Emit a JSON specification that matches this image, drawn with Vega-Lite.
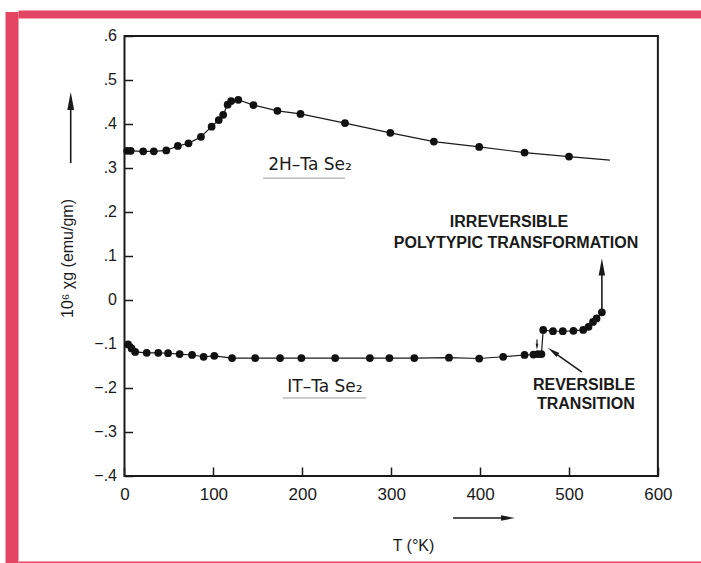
{
  "$schema": "https://vega.github.io/schema/vega-lite/v6.json",
  "width": 683,
  "height": 543,
  "autosize": {"type": "none"},
  "padding": {"left": 18, "top": 18, "right": 0, "bottom": 2},
  "background": "white",
  "config": {
    "view": {"stroke": null},
    "axis": {"labelFont": "Liberation Sans", "titleFont": "Liberation Sans", "grid": false}
  },
  "datasets": {
    "chi": [
      {"series": "2H", "T": 3, "chi": 0.339, "dot": true},
      {"series": "2H", "T": 7, "chi": 0.339, "dot": true},
      {"series": "2H", "T": 21, "chi": 0.338, "dot": true},
      {"series": "2H", "T": 33, "chi": 0.338, "dot": true},
      {"series": "2H", "T": 47, "chi": 0.340, "dot": true},
      {"series": "2H", "T": 60, "chi": 0.350, "dot": true},
      {"series": "2H", "T": 72, "chi": 0.356, "dot": true},
      {"series": "2H", "T": 86, "chi": 0.371, "dot": true},
      {"series": "2H", "T": 98, "chi": 0.394, "dot": true},
      {"series": "2H", "T": 106, "chi": 0.409, "dot": true},
      {"series": "2H", "T": 111, "chi": 0.421, "dot": true},
      {"series": "2H", "T": 116, "chi": 0.444, "dot": true},
      {"series": "2H", "T": 120, "chi": 0.452, "dot": true},
      {"series": "2H", "T": 128, "chi": 0.455, "dot": true},
      {"series": "2H", "T": 145, "chi": 0.443, "dot": true},
      {"series": "2H", "T": 172, "chi": 0.430, "dot": true},
      {"series": "2H", "T": 198, "chi": 0.423, "dot": true},
      {"series": "2H", "T": 248, "chi": 0.402, "dot": true},
      {"series": "2H", "T": 299, "chi": 0.380, "dot": true},
      {"series": "2H", "T": 348, "chi": 0.360, "dot": true},
      {"series": "2H", "T": 399, "chi": 0.348, "dot": true},
      {"series": "2H", "T": 450, "chi": 0.335, "dot": true},
      {"series": "2H", "T": 500, "chi": 0.326, "dot": true},
      {"series": "2H", "T": 546, "chi": 0.318, "dot": false},
      {"series": "1T", "T": 4, "chi": -0.101, "dot": true},
      {"series": "1T", "T": 8, "chi": -0.110, "dot": true},
      {"series": "1T", "T": 12, "chi": -0.118, "dot": true},
      {"series": "1T", "T": 25, "chi": -0.120, "dot": true},
      {"series": "1T", "T": 38, "chi": -0.120, "dot": true},
      {"series": "1T", "T": 49, "chi": -0.121, "dot": true},
      {"series": "1T", "T": 62, "chi": -0.123, "dot": true},
      {"series": "1T", "T": 76, "chi": -0.125, "dot": true},
      {"series": "1T", "T": 89, "chi": -0.129, "dot": true},
      {"series": "1T", "T": 101, "chi": -0.127, "dot": true},
      {"series": "1T", "T": 121, "chi": -0.132, "dot": true},
      {"series": "1T", "T": 147, "chi": -0.132, "dot": true},
      {"series": "1T", "T": 175, "chi": -0.132, "dot": true},
      {"series": "1T", "T": 199, "chi": -0.132, "dot": true},
      {"series": "1T", "T": 237, "chi": -0.132, "dot": true},
      {"series": "1T", "T": 276, "chi": -0.132, "dot": true},
      {"series": "1T", "T": 298, "chi": -0.132, "dot": true},
      {"series": "1T", "T": 326, "chi": -0.132, "dot": true},
      {"series": "1T", "T": 365, "chi": -0.131, "dot": true},
      {"series": "1T", "T": 399, "chi": -0.133, "dot": true},
      {"series": "1T", "T": 426, "chi": -0.129, "dot": true},
      {"series": "1T", "T": 450, "chi": -0.125, "dot": true},
      {"series": "1T", "T": 460, "chi": -0.124, "dot": true},
      {"series": "1T", "T": 465, "chi": -0.123, "dot": true},
      {"series": "1T", "T": 469, "chi": -0.123, "dot": true},
      {"series": "1T", "T": 471, "chi": -0.068, "dot": true},
      {"series": "1T", "T": 482, "chi": -0.071, "dot": true},
      {"series": "1T", "T": 493, "chi": -0.071, "dot": true},
      {"series": "1T", "T": 505, "chi": -0.070, "dot": true},
      {"series": "1T", "T": 516, "chi": -0.068, "dot": true},
      {"series": "1T", "T": 522, "chi": -0.061, "dot": true},
      {"series": "1T", "T": 527, "chi": -0.050, "dot": true},
      {"series": "1T", "T": 531, "chi": -0.042, "dot": true},
      {"series": "1T", "T": 537, "chi": -0.028, "dot": true}
    ],
    "one": [{}]
  },
  "layer": [
    {
      "data": {"name": "chi"},
      "mark": {"type": "line", "color": "#1a1a1a", "strokeWidth": 1.2},
      "encoding": {
        "x": {
          "field": "T", "type": "quantitative",
          "scale": {"domain": [-119.8, 648.5], "nice": false, "zero": false},
          "axis": {
            "orient": "bottom", "offset": -85, "domain": false,
            "values": [0, 100, 200, 300, 400, 500, 600],
            "tickSize": -9, "tickWidth": 1.5, "tickColor": "#1a1a1a",
            "labelPadding": 19, "labelFontSize": 17, "labelColor": "#1a1a1a",
            "title": "T   (°K)", "titleFontSize": 16, "titleFontWeight": "normal", "titleColor": "#1a1a1a",
            "titleX": 395, "titleY": 69, "titleAlign": "center", "titleBaseline": "middle"
          }
        },
        "y": {
          "field": "chi", "type": "quantitative",
          "scale": {"domain": [-0.5932, 0.6409], "nice": false, "zero": false},
          "axis": {
            "orient": "left", "offset": -106.5, "domain": false,
            "values": [-0.4, -0.3, -0.2, -0.1, 0, 0.1, 0.2, 0.3, 0.4, 0.5, 0.6],
            "labelExpr": "datum.value == 0 ? '0' : replace(format(datum.value, '.1f'), '0.', '.')",
            "tickSize": -8, "tickWidth": 1.5, "tickColor": "#1a1a1a",
            "labelPadding": 16, "labelFontSize": 16, "labelColor": "#1a1a1a",
            "title": "10⁶ χg (emu/gm)", "titleFontSize": 16, "titleFontWeight": "normal", "titleColor": "#1a1a1a",
            "titleX": -57, "titleY": 240, "titleAlign": "center", "titleBaseline": "middle", "titleAngle": 270
          }
        },
        "detail": {"field": "series"}
      }
    },
    {
      "data": {"name": "one"},
      "mark": {"type": "rect", "fill": null, "stroke": "#1a1a1a", "strokeWidth": 2},
      "encoding": {
        "x": {
          "datum": 0, "type": "quantitative",
          "axis": {"orient": "top", "offset": 4, "domain": true, "domainColor": "#E34562", "domainWidth": 8, "ticks": false, "labels": false, "title": null}
        },
        "x2": {"datum": 600},
        "y": {
          "datum": -0.4, "type": "quantitative",
          "axis": {"orient": "left", "offset": 6.5, "domain": true, "domainColor": "#E34562", "domainWidth": 13, "domainCap": "square", "ticks": false, "labels": false, "title": null}
        },
        "y2": {"datum": 0.6}
      }
    },
    {
      "data": {"name": "one"},
      "mark": {"type": "rule", "color": "#1a1a1a", "strokeWidth": 1.6},
      "encoding": {
        "x": {
          "datum": -60.5, "type": "quantitative",
          "axis": {"orient": "bottom", "offset": 1, "domain": true, "domainColor": "#E34562", "domainWidth": 2, "ticks": false, "labels": false, "title": null}
        },
        "y": {"datum": 0.311, "type": "quantitative", "axis": null},
        "y2": {"datum": 0.443}
      }
    },
    {
      "data": {"name": "chi"},
      "transform": [{"filter": "datum.dot"}],
      "mark": {"type": "point", "filled": true, "shape": "circle", "size": 60, "color": "#111", "opacity": 1},
      "encoding": {
        "x": {"field": "T", "type": "quantitative", "axis": null},
        "y": {"field": "chi", "type": "quantitative", "axis": null}
      }
    },
    {
      "data": {"name": "one"},
      "mark": {"type": "text", "font": "DejaVu Sans", "fontSize": 17, "align": "center", "baseline": "middle", "color": "#1a1a1a"},
      "encoding": {
        "x": {"datum": 208.7, "type": "quantitative", "axis": null},
        "y": {"datum": 0.307, "type": "quantitative", "axis": null},
        "text": {"value": "2H–Ta Se₂"}
      }
    },
    {
      "data": {"name": "one"},
      "mark": {"type": "text", "font": "DejaVu Sans", "fontSize": 17, "align": "center", "baseline": "middle", "color": "#1a1a1a"},
      "encoding": {
        "x": {"datum": 225.5, "type": "quantitative", "axis": null},
        "y": {"datum": -0.198, "type": "quantitative", "axis": null},
        "text": {"value": "IT–Ta Se₂"}
      }
    },
    {
      "data": {"name": "one"},
      "mark": {"type": "rule", "color": "#9a9a9a", "strokeWidth": 1},
      "encoding": {
        "x": {"datum": 156, "type": "quantitative", "axis": null},
        "x2": {"datum": 248},
        "y": {"datum": 0.277, "type": "quantitative", "axis": null}
      }
    },
    {
      "data": {"name": "one"},
      "mark": {"type": "rule", "color": "#9a9a9a", "strokeWidth": 1},
      "encoding": {
        "x": {"datum": 178, "type": "quantitative", "axis": null},
        "x2": {"datum": 272},
        "y": {"datum": -0.2227, "type": "quantitative", "axis": null}
      }
    },
    {
      "data": {"name": "one"},
      "mark": {"type": "text", "font": "Liberation Sans", "fontWeight": "bold", "fontSize": 16, "align": "center", "baseline": "middle", "color": "#1a1a1a"},
      "encoding": {
        "x": {"datum": 432.5, "type": "quantitative", "axis": null},
        "y": {"datum": 0.177, "type": "quantitative", "axis": null},
        "text": {"value": "IRREVERSIBLE"}
      }
    },
    {
      "data": {"name": "one"},
      "mark": {"type": "text", "font": "Liberation Sans", "fontWeight": "bold", "fontSize": 16, "align": "center", "baseline": "middle", "color": "#1a1a1a"},
      "encoding": {
        "x": {"datum": 440.4, "type": "quantitative", "axis": null},
        "y": {"datum": 0.130, "type": "quantitative", "axis": null},
        "text": {"value": "POLYTYPIC TRANSFORMATION"}
      }
    },
    {
      "data": {"name": "one"},
      "mark": {"type": "text", "font": "Liberation Sans", "fontWeight": "bold", "fontSize": 16, "align": "center", "baseline": "middle", "color": "#1a1a1a"},
      "encoding": {
        "x": {"datum": 517, "type": "quantitative", "axis": null},
        "y": {"datum": -0.193, "type": "quantitative", "axis": null},
        "text": {"value": "REVERSIBLE"}
      }
    },
    {
      "data": {"name": "one"},
      "mark": {"type": "text", "font": "Liberation Sans", "fontWeight": "bold", "fontSize": 16, "align": "center", "baseline": "middle", "color": "#1a1a1a"},
      "encoding": {
        "x": {"datum": 519, "type": "quantitative", "axis": null},
        "y": {"datum": -0.236, "type": "quantitative", "axis": null},
        "text": {"value": "TRANSITION"}
      }
    },
    {
      "data": {"name": "one"},
      "mark": {"type": "rule", "color": "#1a1a1a", "strokeWidth": 1.6},
      "encoding": {
        "x": {"datum": 537, "type": "quantitative", "axis": null},
        "y": {"datum": -0.028, "type": "quantitative", "axis": null},
        "y2": {"datum": 0.065}
      }
    },
    {
      "data": {"name": "one"},
      "mark": {"type": "point", "filled": true, "opacity": 1, "color": "#1a1a1a", "shape": "M0,-1L0.38,1L-0.38,1Z", "size": 289},
      "encoding": {
        "x": {"datum": 537, "type": "quantitative", "axis": null},
        "y": {"datum": 0.075, "type": "quantitative", "axis": null}
      }
    },
    {
      "data": {"name": "one"},
      "mark": {"type": "rule", "color": "#1a1a1a", "strokeWidth": 1.6},
      "encoding": {
        "x": {"datum": 514.6, "type": "quantitative", "axis": null},
        "x2": {"datum": 483},
        "y": {"datum": -0.164, "type": "quantitative", "axis": null},
        "y2": {"datum": -0.119}
      }
    },
    {
      "data": {"name": "one"},
      "mark": {"type": "point", "filled": true, "opacity": 1, "color": "#1a1a1a", "shape": "M0,-1L0.4,1L-0.4,1Z", "size": 144, "angle": 305},
      "encoding": {
        "x": {"datum": 482, "type": "quantitative", "axis": null},
        "y": {"datum": -0.117, "type": "quantitative", "axis": null}
      }
    },
    {
      "data": {"name": "one"},
      "mark": {"type": "rule", "color": "#1a1a1a", "strokeWidth": 1.2},
      "encoding": {
        "x": {"datum": 464, "type": "quantitative", "axis": null},
        "y": {"datum": -0.090, "type": "quantitative", "axis": null},
        "y2": {"datum": -0.102}
      }
    },
    {
      "data": {"name": "one"},
      "mark": {"type": "point", "filled": true, "opacity": 1, "color": "#1a1a1a", "shape": "M0,-1L0.45,1L-0.45,1Z", "size": 36, "angle": 180},
      "encoding": {
        "x": {"datum": 464, "type": "quantitative", "axis": null},
        "y": {"datum": -0.106, "type": "quantitative", "axis": null}
      }
    },
    {
      "data": {"name": "one"},
      "mark": {"type": "point", "filled": true, "opacity": 1, "color": "#1a1a1a", "shape": "M0,-1L0.38,1L-0.38,1Z", "size": 324},
      "encoding": {
        "x": {"datum": -60.5, "type": "quantitative", "axis": null},
        "y": {"datum": 0.452, "type": "quantitative", "axis": null}
      }
    },
    {
      "data": {"name": "one"},
      "mark": {"type": "rule", "color": "#1a1a1a", "strokeWidth": 1.6},
      "encoding": {
        "x": {"datum": 369.6, "type": "quantitative", "axis": null},
        "x2": {"datum": 428},
        "y": {"datum": -0.4955, "type": "quantitative", "axis": null}
      }
    },
    {
      "data": {"name": "one"},
      "mark": {"type": "point", "filled": true, "opacity": 1, "color": "#1a1a1a", "shape": "M0,-1L0.38,1L-0.38,1Z", "size": 196, "angle": 90},
      "encoding": {
        "x": {"datum": 431.4, "type": "quantitative", "axis": null},
        "y": {"datum": -0.4955, "type": "quantitative", "axis": null}
      }
    }
  ],
  "resolve": {"axis": {"x": "independent", "y": "independent"}}
}
